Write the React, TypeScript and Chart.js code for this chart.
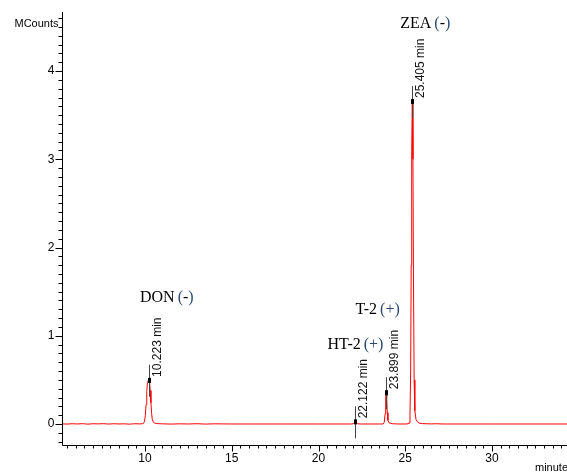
import React, { useEffect, useRef } from "react";
import { Chart, registerables } from "chart.js";

Chart.register(...registerables);

// Retention time (minutes) and detector signal (MCounts)
const timeMin: number[] = [
  5.2, 5.5, 5.8, 6.1, 6.4, 6.7, 7.0, 7.3, 7.6, 7.9, 8.2, 8.5, 8.8, 9.1, 9.4, 9.7, 9.85,
  9.92, 9.97, 10.02, 10.06, 10.1, 10.14, 10.18, 10.223, 10.26, 10.3, 10.34, 10.38, 10.42, 10.47, 10.55, 10.65, 10.8,
  11.0, 11.5, 12.0, 12.5, 13.0, 13.5, 14.0, 14.5, 15.0, 16.0, 18.0, 20.0, 21.9,
  22.0, 22.07, 22.122, 22.17, 22.25, 22.4, 23.5,
  23.72, 23.79, 23.84, 23.87, 23.899, 23.93, 23.96, 24.0, 24.08, 24.25, 24.6, 25.1,
  25.22, 25.27, 25.31, 25.34, 25.37, 25.405, 25.44, 25.47, 25.51, 25.55, 25.62, 25.7, 25.8, 26.0,
  26.2, 26.5, 26.8, 27.0, 27.3, 30.0, 34.4,
];
const signal: number[] = [
  0.002, -0.001, 0.003, 0.0, 0.004, -0.002, 0.003, 0.001, 0.004, -0.001, 0.003, 0.0, 0.002, -0.002, 0.003, 0.001, 0.003,
  0.008, 0.03, 0.1, 0.22, 0.37, 0.47, 0.49, 0.51, 0.48, 0.38, 0.24, 0.12, 0.05, 0.025, 0.012, 0.006, 0.003,
  0.002, -0.001, 0.002, 0.0, 0.003, -0.001, 0.002, 0.001, 0.0, 0.0, 0.0, 0.0, 0.0,
  0.003, 0.012, 0.03, 0.012, 0.003, 0.0, 0.0,
  0.0, 0.02, 0.12, 0.3, 0.37, 0.3, 0.13, 0.04, 0.012, 0.003, 0.0, 0.0,
  0.01, 0.1, 0.6, 1.8, 3.1, 3.68, 3.0, 1.7, 0.5, 0.15, 0.05, 0.025, 0.01, 0.004,
  0.003, 0.001, 0.003, 0.001, 0.0, 0.0, 0.0,
];

// Peak annotations
const peakNames: string[] = ["DON", "HT-2", "T-2", "ZEA"];
const peakSigns: string[] = ["-", "+", "+", "-"];
const peakTimes: number[] = [10.223, 22.122, 23.899, 25.405];
const peakHeights: number[] = [0.5, 0.03, 0.36, 3.66];
const peakLabelX: number[] = [9.71, 20.52, 22.13, 24.71];
const peakLabelY: number[] = [1.43, 0.895, 1.29, 4.53];

// Axis ticks
const xMajorTicks: number[] = [10, 15, 20, 25, 30];
const yMajorTicks: number[] = [0, 1, 2, 3, 4];
const xMinorStep = 0.5;
const yMinorStep = 0.1;

const X_MIN = 5.215;
const X_MAX = 34.32;
const Y_MIN = -0.238;
const Y_MAX = 4.669;

const overlayPlugin = {
  id: "overlay",
  afterDatasetsDraw(chart: any) {
    const ctx: CanvasRenderingContext2D = chart.ctx;
    const xs = chart.scales.x;
    const ys = chart.scales.y;
    const area = chart.chartArea;
    ctx.save();

    // peak markers
    for (let i = 0; i < peakTimes.length; i++) {
      const px = Math.round(xs.getPixelForValue(peakTimes[i])) + 0.5;
      const py = ys.getPixelForValue(peakHeights[i]);
      ctx.strokeStyle = "#444";
      ctx.lineWidth = 1;
      ctx.beginPath();
      ctx.moveTo(px, py - 15);
      ctx.lineTo(px, py + 17);
      ctx.stroke();
      ctx.fillStyle = "#000";
      ctx.fillRect(px - 1.5, py - 2, 3, 5);

      // rotated retention time label
      ctx.save();
      ctx.translate(px + 8, py - 3);
      ctx.rotate(-Math.PI / 2);
      ctx.font = "12px 'Liberation Sans', Arial, sans-serif";
      ctx.fillStyle = "#111";
      ctx.textAlign = "left";
      ctx.textBaseline = "middle";
      ctx.fillText(peakTimes[i].toFixed(3) + " min", 0, 0);
      ctx.restore();

      // compound label
      const lx = xs.getPixelForValue(peakLabelX[i]);
      const ly = ys.getPixelForValue(peakLabelY[i]);
      ctx.font = "16px 'Liberation Serif', 'Times New Roman', serif";
      ctx.textBaseline = "middle";
      ctx.textAlign = "left";
      let cx = lx;
      ctx.fillStyle = "#000";
      ctx.fillText(peakNames[i], cx, ly);
      cx += ctx.measureText(peakNames[i]).width + 3;
      ctx.fillStyle = "#2d4a75";
      ctx.fillText("(", cx, ly);
      cx += ctx.measureText("(").width;
      ctx.fillStyle = peakSigns[i] === "+" ? "#2d4a75" : "#000";
      ctx.fillText(peakSigns[i], cx, ly);
      cx += ctx.measureText(peakSigns[i]).width;
      ctx.fillStyle = "#2d4a75";
      ctx.fillText(")", cx, ly);
    }

    // axes
    ctx.strokeStyle = "#000";
    ctx.lineWidth = 1;
    const ax = Math.round(area.left) + 0.5;
    const ay = Math.round(area.bottom) + 0.5;
    ctx.beginPath();
    ctx.moveTo(ax, area.top);
    ctx.lineTo(ax, ay);
    ctx.lineTo(area.right, ay);
    ctx.stroke();

    // y ticks
    ctx.beginPath();
    for (let v = Math.ceil(Y_MIN / yMinorStep) * yMinorStep; v <= Y_MAX + 1e-9; v += yMinorStep) {
      const py = Math.round(ys.getPixelForValue(v)) + 0.5;
      const major = yMajorTicks.some((t) => Math.abs(t - v) < 1e-6);
      ctx.moveTo(ax, py);
      ctx.lineTo(ax - (major ? 7 : 4), py);
    }
    ctx.stroke();
    ctx.font = "12px 'Liberation Sans', Arial, sans-serif";
    ctx.fillStyle = "#000";
    ctx.textAlign = "right";
    ctx.textBaseline = "middle";
    for (const t of yMajorTicks) {
      ctx.fillText(String(t), ax - 8, ys.getPixelForValue(t));
    }

    // x ticks
    ctx.beginPath();
    for (let v = Math.ceil(X_MIN / xMinorStep) * xMinorStep; v <= X_MAX + 1e-9; v += xMinorStep) {
      const px = Math.round(xs.getPixelForValue(v)) + 0.5;
      const major = xMajorTicks.some((t) => Math.abs(t - v) < 1e-6);
      ctx.moveTo(px, ay);
      ctx.lineTo(px, ay + (major ? 6 : 3));
    }
    ctx.stroke();
    ctx.textAlign = "center";
    ctx.textBaseline = "middle";
    for (const t of xMajorTicks) {
      ctx.fillText(String(t), xs.getPixelForValue(t), ay + 13);
    }

    // axis titles
    ctx.font = "11px 'Liberation Sans', Arial, sans-serif";
    ctx.textAlign = "right";
    ctx.fillText("MCounts", ax - 4, 24);
    ctx.textAlign = "left";
    ctx.fillText("minutes", 535, ay + 22);

    ctx.restore();
  },
};

export default function App() {
  const canvasRef = useRef<HTMLCanvasElement | null>(null);

  useEffect(() => {
    document.body.style.margin = "0";
    const canvas = canvasRef.current;
    if (!canvas) return;
    const chart = new Chart(canvas, {
      type: "line",
      data: {
        datasets: [
          {
            data: timeMin.map((t, i) => ({ x: t, y: signal[i] })),
            borderColor: "#ff0000",
            borderWidth: 1,
            pointRadius: 0,
            tension: 0,
            fill: false,
          },
        ],
      },
      options: {
        responsive: false,
        animation: false,
        events: [],
        layout: { padding: { left: 62, top: 12, right: 0, bottom: 27 } },
        scales: {
          x: { type: "linear", min: X_MIN, max: X_MAX, display: false },
          y: { type: "linear", min: Y_MIN, max: Y_MAX, display: false },
        },
        plugins: { legend: { display: false }, tooltip: { enabled: false } },
      },
      plugins: [overlayPlugin],
    });
    return () => chart.destroy();
  }, []);

  return (
    <div style={{ position: "absolute", left: 0, top: 0, width: 567, height: 472, background: "#fff" }}>
      <canvas ref={canvasRef} width={567} height={472} style={{ width: 567, height: 472 }} />
    </div>
  );
}
